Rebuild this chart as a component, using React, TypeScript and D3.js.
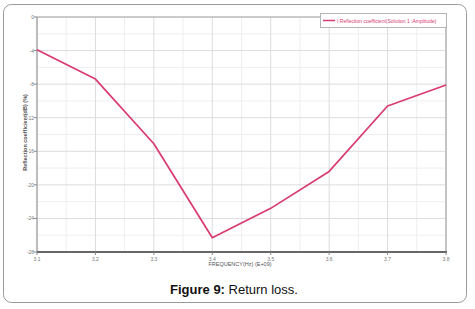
import * as React from "react";
import * as d3 from "d3";

// frequency in GHz (E+09) and reflection coefficient in dB
const freqs = [3.1, 3.2, 3.3, 3.4, 3.5, 3.6, 3.7, 3.8];
const returnLoss = [-3.9, -7.4, -15.1, -26.3, -22.8, -18.4, -10.6, -8.1];
const yTicks = [0, -4, -8, -12, -16, -20, -24, -28];
const xTickLabels = ["3.1", "3.2", "3.3", "3.4", "3.5", "3.6", "3.7", "3.8"];

const W = 475;
const H = 309;
const plot = { left: 37, right: 446, top: 17, bottom: 252 };
const LINE = "#d83a72";

export default function App() {
  const x = d3.scaleLinear().domain([3.1, 3.8]).range([plot.left, plot.right]);
  const y = d3.scaleLinear().domain([0, -28]).range([plot.top, plot.bottom]);

  const line = d3.line<number>()
    .x((_, i) => x(freqs[i]))
    .y(d => y(d));

  // minor grid at the half steps
  const xMinor = d3.range(3.15, 3.8, 0.1);
  const yMinor = d3.range(-2, -28, -4);

  return (
    <svg width={W} height={H} style={{ position: "absolute", left: 0, top: 0, background: "#fff" }}
      fontFamily="Arial, 'Liberation Sans', sans-serif">
      <rect x={3.5} y={4.5} width={463} height={298} rx={8} fill="#fff" stroke="#9a9a9a" strokeWidth={1} />

      {/* grid */}
      <g>
        {xMinor.map((v, i) => (
          <line key={"xm" + i} x1={x(v)} x2={x(v)} y1={plot.top} y2={plot.bottom} stroke="#eeeeee" strokeWidth={1} />
        ))}
        {yMinor.map((v, i) => (
          <line key={"ym" + i} x1={plot.left} x2={plot.right} y1={y(v)} y2={y(v)} stroke="#eeeeee" strokeWidth={1} />
        ))}
        {freqs.map((v, i) => (
          <line key={"xg" + i} x1={x(v)} x2={x(v)} y1={plot.top} y2={plot.bottom} stroke="#dcdcdc" strokeWidth={1} />
        ))}
        {yTicks.map((v, i) => (
          <line key={"yg" + i} x1={plot.left} x2={plot.right} y1={y(v)} y2={y(v)} stroke="#dcdcdc" strokeWidth={1} />
        ))}
      </g>

      {/* frame */}
      <line x1={plot.left} x2={plot.right} y1={plot.top} y2={plot.top} stroke="#a8a8a8" strokeWidth={1} />
      <line x1={plot.right} x2={plot.right} y1={plot.top} y2={plot.bottom} stroke="#c4c4c4" strokeWidth={2} />
      <line x1={plot.left} x2={plot.left} y1={plot.top} y2={plot.bottom} stroke="#8c8c8c" strokeWidth={1} />
      <line x1={plot.left} x2={plot.right + 1} y1={plot.bottom} y2={plot.bottom} stroke="#666" strokeWidth={2} />

      {/* ticks */}
      {yTicks.map((v, i) => (
        <g key={"yt" + i}>
          <line x1={plot.left - 3} x2={plot.left} y1={y(v)} y2={y(v)} stroke="#888" />
          <text x={plot.left - 3} y={y(v) + 2} fontSize={5} fill="#777" textAnchor="end">{v}</text>
        </g>
      ))}
      {freqs.map((v, i) => (
        <g key={"xt" + i}>
          <line x1={x(v)} x2={x(v)} y1={plot.bottom} y2={plot.bottom + 3} stroke="#888" />
          <text x={x(v)} y={plot.bottom + 9} fontSize={5} fill="#777" textAnchor="middle">{xTickLabels[i]}</text>
        </g>
      ))}

      {/* axis titles */}
      <text transform={`translate(27,${(plot.top + plot.bottom) / 2 - 2}) rotate(-90)`} fontSize={5.5}
        fontWeight="bold" fill="#555" textAnchor="middle">Reflection coefficient(dB) (%)</text>
      <text x={240} y={266} fontSize={5.5} fill="#555" textAnchor="middle">FREQUENCY(Hz) (E+09)</text>

      {/* data */}
      <path d={line(returnLoss) || ""} fill="none" stroke={LINE} strokeWidth={1.7} strokeLinejoin="round" />

      {/* legend */}
      <rect x={320.5} y={13.5} width={126} height={14} fill="#fff" stroke="#b5b5b5" strokeWidth={1} />
      <line x1={323} x2={335} y1={20.5} y2={20.5} stroke={LINE} strokeWidth={1.5} />
      <text x={337} y={22.5} fontSize={5} fill={LINE}>I Reflection coefficient(Solution 1 :Amplitude)</text>

      {/* caption */}
      <text x={234} y={294} fontSize={13} fill="#111" textAnchor="middle">
        <tspan fontWeight="bold">Figure 9:</tspan> Return loss.
      </text>
    </svg>
  );
}
